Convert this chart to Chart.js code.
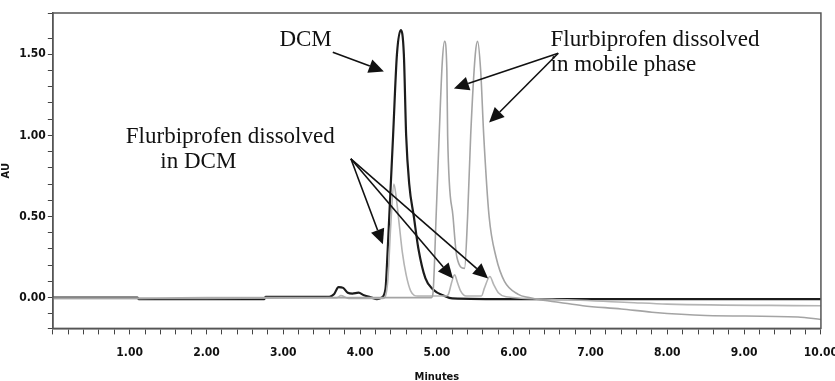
<!DOCTYPE html>
<html>
<head>
<meta charset="utf-8">
<script src="https://cdn.jsdelivr.net/npm/chart.js@4.4.1/dist/chart.umd.min.js"></script>
<style>
  html, body { margin: 0; padding: 0; background: #fff; overflow: hidden; }
  #wrap { position: relative; width: 849px; height: 384px; }
</style>
</head>
<body>
<div id="wrap"><canvas id="chromChart"></canvas></div>
<script>
// retention times (minutes) and absorbance (AU)
const dcmTime = [0, 1.1, 1.12, 2.75, 2.77, 3.6, 3.66, 3.72, 3.78, 3.84, 3.9, 3.98, 4.05, 4.15, 4.22, 4.28, 4.33, 4.36, 4.38, 4.43, 4.48, 4.53, 4.57, 4.6, 4.64, 4.7, 4.76, 4.85, 4.95, 5.1, 5.2, 6.0, 9.1, 10]
const dcmAU   = [0, 0, -0.01, -0.01, 0.005, 0.005, 0.02, 0.065, 0.06, 0.03, 0.025, 0.03, 0.015, 0.0, -0.01, 0.0, 0.05, 0.3, 0.5, 1.0, 1.5, 1.65, 1.5, 1.0, 0.7, 0.5, 0.3, 0.12, 0.05, 0.01, -0.005, -0.01, -0.01, -0.01]

const inDcmTime = [0, 1.0, 2.0, 3.0, 3.7, 3.75, 3.85, 4.3, 4.36, 4.4, 4.44, 4.47, 4.51, 4.55, 4.6, 4.66, 4.75, 5.12, 5.15, 5.19, 5.23, 5.27, 5.31, 5.38, 5.58, 5.62, 5.69, 5.74, 5.8, 5.9, 6.5, 7.5, 8.0, 10]
const inDcmAU   = [-0.005, -0.005, 0.0, 0.0, 0.0, 0.012, -0.005, -0.005, 0.1, 0.45, 0.70, 0.62, 0.45, 0.28, 0.14, 0.04, 0.01, 0.01, 0.02, 0.09, 0.14, 0.09, 0.04, 0.01, 0.01, 0.06, 0.13, 0.08, 0.03, 0.005, -0.01, -0.03, -0.04, -0.05]

const mobileTime = [0, 2.0, 4.0, 4.93, 4.95, 4.99, 5.03, 5.07, 5.10, 5.13, 5.14, 5.21, 5.26, 5.36, 5.4, 5.44, 5.5, 5.53, 5.57, 5.61, 5.68, 5.77, 5.88, 6.06, 6.2, 6.3, 6.6, 6.9, 7.4, 7.8, 8.5, 9.7, 10]
const mobileAU   = [-0.005, -0.005, 0.0, 0.0, 0.03, 0.5, 1.0, 1.45, 1.58, 1.4, 1.0, 0.5, 0.25, 0.18, 0.5, 1.0, 1.5, 1.58, 1.4, 1.0, 0.5, 0.25, 0.1, 0.02, 0.0, -0.01, -0.03, -0.05, -0.07, -0.09, -0.11, -0.12, -0.135]

// annotation texts, anchored in data units [minutes, AU]
const labelTexts = [
  { lines: ['DCM'], at: [2.95, 1.59] },
  { lines: ['Flurbiprofen dissolved', 'in mobile phase'], at: [6.48, 1.59] },
  { lines: ['Flurbiprofen dissolved', 'in DCM'], at: [0.95, 0.99], indent: [0, 0.45] }
]
const arrowLines = [
  [[3.645, 1.513], [4.31, 1.395]],
  [[6.58, 1.507], [5.222, 1.29]],
  [[6.58, 1.507], [5.68, 1.079]],
  [[3.88, 0.856], [4.297, 0.329]],
  [[3.88, 0.856], [5.21, 0.118]],
  [[3.88, 0.856], [5.667, 0.118]]
]

const tickFont = { family: "'DejaVu Sans Condensed', 'Liberation Sans Narrow', sans-serif", size: 12, weight: 'bold' }

function toPoints (xs, ys) {
  return xs.map((x, i) => ({ x: x, y: ys[i] }))
}

function isMultiple (v, step) {
  let r = v / step
  return Math.abs(r - Math.round(r)) < 1e-6
}

// box around the plot area, like the instrument software draws it
const frameBox = {
  id: 'frameBox',
  afterDraw (chart) {
    const a = chart.chartArea, ctx = chart.ctx
    ctx.save()
    ctx.strokeStyle = '#555'
    ctx.lineWidth = 1.5
    ctx.strokeRect(a.left, a.top, a.right - a.left, a.bottom - a.top)
    ctx.restore()
  }
}

const calloutNotes = {
  id: 'calloutNotes',
  afterDatasetsDraw (chart) {
    const ctx = chart.ctx, xs = chart.scales.x, ys = chart.scales.y
    ctx.save()
    ctx.fillStyle = '#111'
    ctx.font = "23px 'Liberation Serif', 'Times New Roman', serif"
    ctx.textBaseline = 'middle'
    ctx.textAlign = 'left'
    labelTexts.forEach(function (t) {
      let px = xs.getPixelForValue(t.at[0])
      let py = ys.getPixelForValue(t.at[1])
      t.lines.forEach(function (line, i) {
        let dx = t.indent ? xs.getPixelForValue(t.at[0] + t.indent[i]) - px : 0
        ctx.fillText(line, px + dx, py + i * 25)
      })
    })

    ctx.strokeStyle = '#111'
    ctx.lineWidth = 1.6
    arrowLines.forEach(function (ar) {
      let x0 = xs.getPixelForValue(ar[0][0]), y0 = ys.getPixelForValue(ar[0][1])
      let x1 = xs.getPixelForValue(ar[1][0]), y1 = ys.getPixelForValue(ar[1][1])
      let ang = Math.atan2(y1 - y0, x1 - x0)
      let headLen = 15, headW = 7
      let bx = x1 - headLen * Math.cos(ang), by = y1 - headLen * Math.sin(ang)
      ctx.beginPath()
      ctx.moveTo(x0, y0)
      ctx.lineTo(bx, by)
      ctx.stroke()
      ctx.beginPath()
      ctx.moveTo(x1, y1)
      ctx.lineTo(bx + headW * Math.sin(ang), by - headW * Math.cos(ang))
      ctx.lineTo(bx - headW * Math.sin(ang), by + headW * Math.cos(ang))
      ctx.closePath()
      ctx.fill()
    })
    ctx.restore()
  }
}

new Chart(document.getElementById('chromChart'), {
  type: 'line',
  data: {
    datasets: [
      {
        label: 'Flurbiprofen dissolved in mobile phase',
        data: toPoints(mobileTime, mobileAU),
        borderColor: '#a4a4a4',
        borderWidth: 1.6
      },
      {
        label: 'Flurbiprofen dissolved in DCM',
        data: toPoints(inDcmTime, inDcmAU),
        borderColor: '#b4b4b4',
        borderWidth: 1.6
      },
      {
        label: 'DCM',
        data: toPoints(dcmTime, dcmAU),
        borderColor: '#1c1c1c',
        borderWidth: 2.2
      }
    ]
  },
  options: {
    responsive: true,
    maintainAspectRatio: false,
    animation: false,
    layout: { autoPadding: false, padding: { top: 13, left: 0, right: 0, bottom: 0 } },
    elements: {
      point: { radius: 0 },
      line: { cubicInterpolationMode: 'monotone', fill: false }
    },
    plugins: {
      legend: { display: false },
      tooltip: { enabled: false }
    },
    scales: {
      x: {
        type: 'linear',
        min: 0,
        max: 10,
        border: { display: true, color: '#555', width: 1.5 },
        grid: { drawOnChartArea: false, tickLength: 6, color: '#444' },
        ticks: {
          stepSize: 0.2,
          autoSkip: false,
          maxRotation: 0,
          padding: 11,
          color: '#111',
          font: tickFont,
          callback: v => (v > 0 && isMultiple(v, 1)) ? v.toFixed(2) : ''
        },
        title: {
          display: true,
          text: 'Minutes',
          color: '#111',
          padding: { top: 0, bottom: 0 },
          font: { family: tickFont.family, size: 11, weight: 'bold' }
        }
      },
      y: {
        min: -0.19,
        max: 1.755,
        border: { display: true, color: '#555', width: 1.5 },
        grid: { drawOnChartArea: false, tickLength: 5, color: '#444' },
        ticks: {
          stepSize: 0.1,
          autoSkip: false,
          padding: 2,
          color: '#111',
          font: tickFont,
          callback: v => isMultiple(v, 0.5) ? v.toFixed(2) : ''
        },
        title: {
          display: true,
          text: 'AU',
          color: '#111',
          padding: { top: 0, bottom: 4 },
          font: { family: tickFont.family, size: 11, weight: 'bold' }
        }
      }
    }
  },
  plugins: [frameBox, calloutNotes]
})
</script>
</body>
</html>
